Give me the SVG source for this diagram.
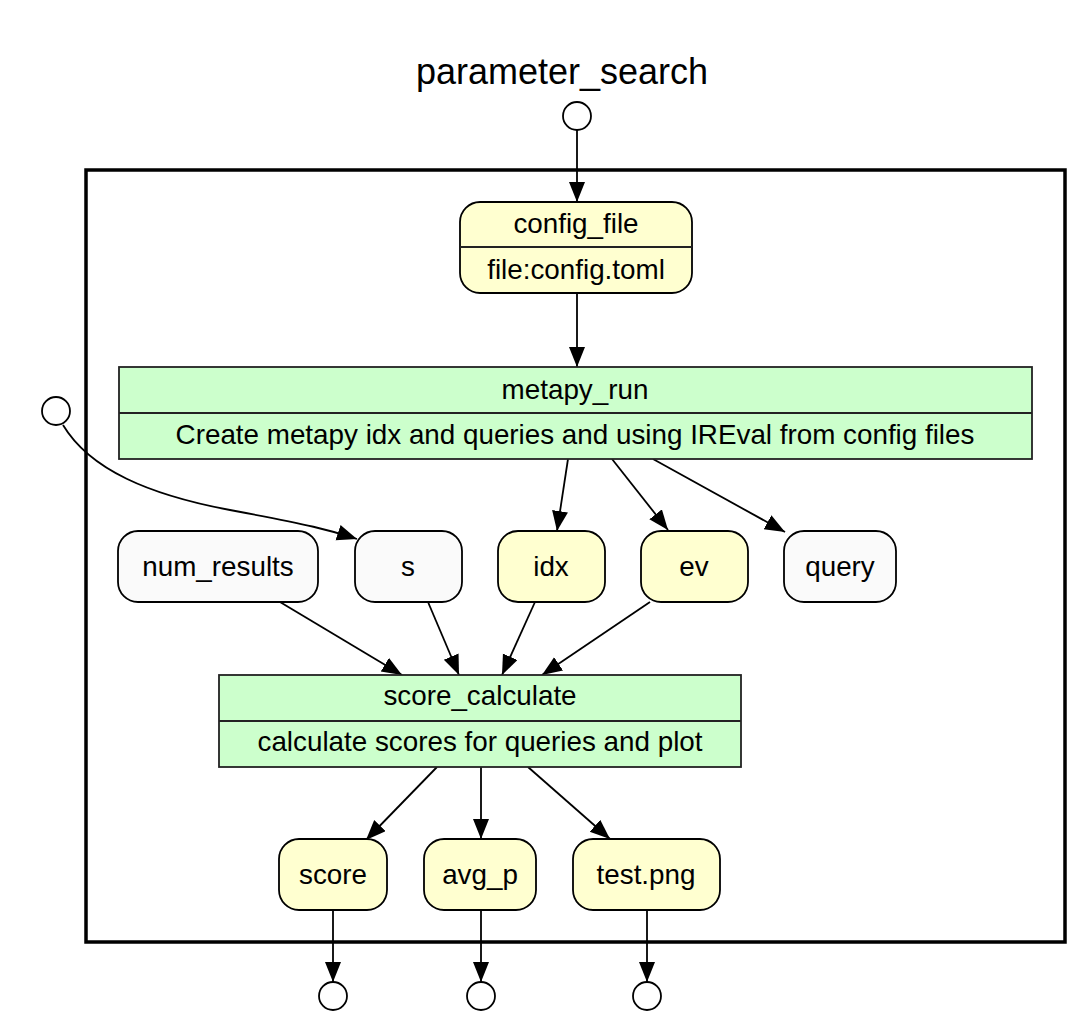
<svg xmlns="http://www.w3.org/2000/svg" width="1090" height="1028" viewBox="0 0 1090 1028">
<style>
text{font-family:"Liberation Sans",Arial,sans-serif;font-size:27.8px;fill:#000;text-anchor:middle}
.title{font-size:36px}
.data{fill:#ffffd0;stroke:#000;stroke-width:1.8}
.param{fill:#fafafa;stroke:#000;stroke-width:1.8}
.step{fill:#ccffcc;stroke:#222;stroke-width:1.8}
.port{fill:#fff;stroke:#000;stroke-width:1.8}
.div{stroke:#222;stroke-width:1.8}
.edge{fill:none;stroke:#000;stroke-width:1.8}
</style>
<defs>
<marker id="ah" markerUnits="userSpaceOnUse" markerWidth="22" markerHeight="18" refX="20" refY="8" orient="auto">
<path d="M0,0 L20,8 L0,16 z" fill="#000"/>
</marker>
</defs>
<rect width="1090" height="1028" fill="#fff"/>
<text class="title" x="562" y="84">parameter_search</text>
<rect x="86" y="170" width="979" height="772" fill="none" stroke="#000" stroke-width="3.5"/>

<g id="connectors">
<path class="edge" marker-end="url(#ah)" d="M577,130 L577,202"/>
<path class="edge" marker-end="url(#ah)" d="M577,293 L577,367"/>
<path class="edge" marker-end="url(#ah)" d="M63,425 C90,470 150,495 230,510 S330,530 357,539"/>
<path class="edge" marker-end="url(#ah)" d="M568,459 L557,531"/>
<path class="edge" marker-end="url(#ah)" d="M612,459 L668,530"/>
<path class="edge" marker-end="url(#ah)" d="M653,459 L785,532"/>
<path class="edge" marker-end="url(#ah)" d="M280,602 L402,675"/>
<path class="edge" marker-end="url(#ah)" d="M428,602 L459,675"/>
<path class="edge" marker-end="url(#ah)" d="M535,602 L502,675"/>
<path class="edge" marker-end="url(#ah)" d="M650,602 L542,675"/>
<path class="edge" marker-end="url(#ah)" d="M437,767 L366,840"/>
<path class="edge" marker-end="url(#ah)" d="M481,767 L481,839"/>
<path class="edge" marker-end="url(#ah)" d="M528,767 L610,839"/>
<path class="edge" marker-end="url(#ah)" d="M333,910 L333,982"/>
<path class="edge" marker-end="url(#ah)" d="M481,910 L481,982"/>
<path class="edge" marker-end="url(#ah)" d="M647,910 L647,982"/>
</g>

<g id="in_top"><circle class="port" cx="577" cy="116" r="14"/></g>
<g id="in_left"><circle class="port" cx="56" cy="411" r="14"/></g>

<g id="config_file">
<rect class="data" x="460" y="202" width="232" height="91" rx="20"/>
<line class="div" x1="460" y1="247" x2="692" y2="247"/>
<text x="576" y="233">config_file</text>
<text x="576" y="279">file:config.toml</text>
</g>

<g id="metapy_run">
<rect class="step" x="119" y="367" width="913" height="92"/>
<line class="div" x1="119" y1="413" x2="1032" y2="413"/>
<text x="575" y="399">metapy_run</text>
<text x="575" y="444">Create metapy idx and queries and using IREval from config files</text>
</g>

<g id="num_results">
<rect class="param" x="118" y="531" width="200" height="71" rx="20"/>
<text x="218" y="576">num_results</text>
</g>
<g id="s">
<rect class="param" x="355" y="531" width="107" height="71" rx="20"/>
<text x="408" y="576">s</text>
</g>
<g id="idx">
<rect class="data" x="498" y="531" width="107" height="71" rx="20"/>
<text x="551" y="576">idx</text>
</g>
<g id="ev">
<rect class="data" x="641" y="531" width="107" height="71" rx="20"/>
<text x="694" y="576">ev</text>
</g>
<g id="query">
<rect class="param" x="784" y="531" width="112" height="71" rx="20"/>
<text x="840" y="576">query</text>
</g>

<g id="score_calculate">
<rect class="step" x="219" y="675" width="522" height="92"/>
<line class="div" x1="219" y1="721" x2="741" y2="721"/>
<text x="480" y="705">score_calculate</text>
<text x="480" y="751">calculate scores for queries and plot</text>
</g>

<g id="score">
<rect class="data" x="279" y="839" width="108" height="71" rx="20"/>
<text x="333" y="884">score</text>
</g>
<g id="avg_p">
<rect class="data" x="424" y="839" width="112" height="71" rx="20"/>
<text x="480" y="884">avg_p</text>
</g>
<g id="test_png">
<rect class="data" x="573" y="839" width="147" height="71" rx="20"/>
<text x="646" y="884">test.png</text>
</g>

<g id="out_score"><circle class="port" cx="333" cy="996" r="14"/></g>
<g id="out_avg_p"><circle class="port" cx="481" cy="996" r="14"/></g>
<g id="out_test_png"><circle class="port" cx="647" cy="996" r="14"/></g>
</svg>
